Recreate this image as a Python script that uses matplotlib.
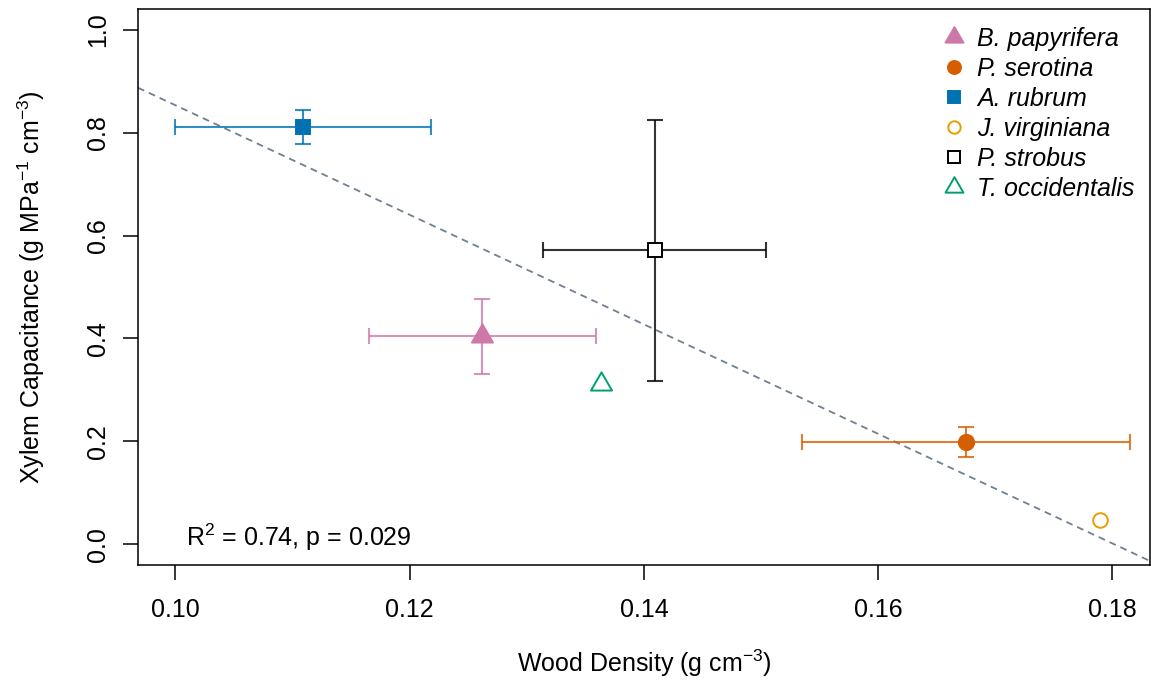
import numpy as np
import matplotlib.pyplot as plt
from matplotlib.lines import Line2D
from matplotlib.path import Path

plt.rcParams['font.family'] = 'Liberation Sans'
plt.rcParams['mathtext.fontset'] = 'custom'
plt.rcParams['mathtext.rm'] = 'Liberation Sans'
plt.rcParams['mathtext.it'] = 'Liberation Sans:italic'
plt.rcParams['mathtext.default'] = 'regular'

# species means and standard errors
species = ['B. papyrifera', 'P. serotina', 'A. rubrum',
           'J. virginiana', 'P. strobus', 'T. occidentalis']
density = [0.1262, 0.1675, 0.1109, 0.1789, 0.1409, 0.1363]
density_se = [0.0097, 0.0140, 0.0109, np.nan, 0.0095, np.nan]
capacitance = [0.404, 0.199, 0.810, 0.047, 0.571, 0.312]
capacitance_se = [0.073, 0.0285, 0.033, np.nan, 0.254, np.nan]

# linear fit across species
fit_intercept = 1.917
fit_slope = -10.64
fit_label = 'R$^2$ = 0.74, p = 0.029'

colors = ['#CC79A7', '#D55E00', '#0072B2', '#E69F00', '#000000', '#009E73']
# equilateral triangle centred on its centroid, like R's pch 2 / 17
tri = Path([(-1, -0.577), (1, -0.577), (0, 1.155), (0, 0)],
           [Path.MOVETO, Path.LINETO, Path.LINETO, Path.CLOSEPOLY])
markers = [tri, 'o', 's', 'o', 's', tri]
filled = [True, True, True, False, False, False]
sizes = [17.5, 11, 10, 10.5, 10.5, 17.5]

fig = plt.figure(figsize=(11.51, 6.83), dpi=100)
ax = fig.add_axes([0.1199, 0.1728, 0.8792, 0.8140])

ax.axline((0.1, fit_intercept + fit_slope * 0.1), slope=fit_slope,
          color='#708090', lw=1.3, dashes=(3.8, 2.8), zorder=1)

for i in range(len(species)):
    if not np.isnan(density_se[i]):
        ax.errorbar(density[i], capacitance[i], xerr=density_se[i],
                    yerr=capacitance_se[i], fmt='none', ecolor=colors[i],
                    alpha=0.8, elinewidth=1.5, capsize=5.5, capthick=1.5,
                    zorder=2)
    face = colors[i] if filled[i] else 'white'
    ax.plot(density[i], capacitance[i], linestyle='none', marker=markers[i],
            ms=sizes[i], mfc=face, mec=colors[i], mew=1.4, zorder=3)

ax.text(0.1105, -0.004, fit_label, ha='center', va='baseline', fontsize=18)

handles = []
for i in range(len(species)):
    face = colors[i] if filled[i] else 'white'
    handles.append(Line2D([], [], linestyle='none', marker=markers[i],
                          ms=sizes[i] * 0.85, mfc=face, mec=colors[i], mew=1.4))
leg = ax.legend(handles, species, loc='upper left',
                bbox_to_anchor=(942 / 1151, 1 - 27 / 683),
                bbox_transform=fig.transFigure, frameon=False,
                borderpad=0, borderaxespad=0, handlelength=1.0,
                handletextpad=0.42, labelspacing=0.24,
                prop={'size': 18, 'style': 'italic'})

ax.set_xlim(0.0968, 0.1832)
ax.set_ylim(-0.04, 1.04)
ax.set_xticks([0.10, 0.12, 0.14, 0.16, 0.18])
ax.set_xticklabels(['0.10', '0.12', '0.14', '0.16', '0.18'])
ax.set_yticks([0.0, 0.2, 0.4, 0.6, 0.8, 1.0])
ax.set_yticklabels(['0.0', '0.2', '0.4', '0.6', '0.8', '1.0'])
for lab in ax.get_yticklabels():
    lab.set_rotation(90)
    lab.set_va('center')
ax.tick_params(direction='out', length=11, width=1.1, pad=13, labelsize=18)
ax.tick_params(axis='y', pad=9)
for s in ax.spines.values():
    s.set_linewidth(1.1)

ax.set_xlabel('Wood Density (g cm$^{-3}$)', fontsize=18)
ax.set_ylabel('Xylem Capacitance (g MPa$^{-1}$ cm$^{-3}$)', fontsize=18)
ax.xaxis.set_label_coords(0.5, -0.149)
ax.yaxis.set_label_coords(-0.09, 0.5)

fig.savefig('out.png', dpi=100)
